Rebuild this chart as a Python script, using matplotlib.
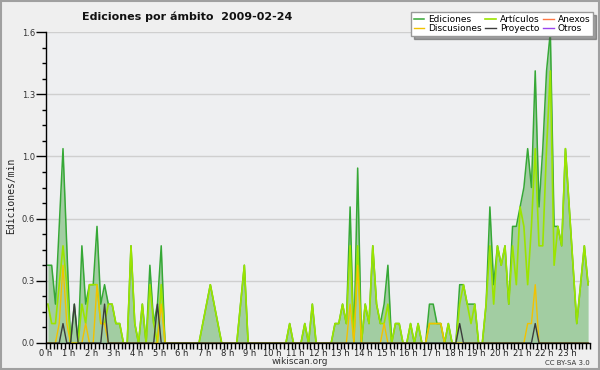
import numpy as np
import matplotlib
matplotlib.use("Agg")
import matplotlib.pyplot as plt
from matplotlib.patches import Rectangle

# ediciones por minuto, intervalos de 10 minutos (6 por hora)
total = [
    0.4, 0.4, 0.2, 0.6, 1.0, 0.5,   # 0 h
    0.0, 0.2, 0.0, 0.5, 0.2, 0.3,   # 1 h
    0.3, 0.6, 0.2, 0.3, 0.2, 0.2,   # 2 h
    0.1, 0.1, 0.0, 0.0, 0.5, 0.1,   # 3 h
    0.0, 0.2, 0.0, 0.4, 0.1, 0.2,   # 4 h
    0.5, 0.0, 0.0, 0.0, 0.0, 0.0,   # 5 h
    0.0, 0.0, 0.0, 0.0, 0.0, 0.1,   # 6 h
    0.2, 0.3, 0.2, 0.1, 0.0, 0.0,   # 7 h
    0.0, 0.0, 0.0, 0.2, 0.4, 0.0,   # 8 h
    0.0, 0.0, 0.0, 0.0, 0.0, 0.0,   # 9 h
    0.0, 0.0, 0.0, 0.0, 0.1, 0.0,   # 10 h
    0.0, 0.0, 0.1, 0.0, 0.2, 0.0,   # 11 h
    0.0, 0.0, 0.0, 0.0, 0.1, 0.1,   # 12 h
    0.2, 0.1, 0.7, 0.0, 0.9, 0.0,   # 13 h
    0.2, 0.1, 0.5, 0.2, 0.1, 0.2,   # 14 h
    0.4, 0.0, 0.1, 0.1, 0.0, 0.0,   # 15 h
    0.1, 0.0, 0.1, 0.0, 0.0, 0.2,   # 16 h
    0.2, 0.1, 0.1, 0.0, 0.1, 0.0,   # 17 h
    0.0, 0.3, 0.3, 0.2, 0.2, 0.2,   # 18 h
    0.0, 0.0, 0.2, 0.7, 0.3, 0.5,   # 19 h
    0.4, 0.5, 0.2, 0.6, 0.6, 0.7,   # 20 h
    0.8, 1.0, 0.8, 1.4, 0.7, 1.0,   # 21 h
    1.4, 1.6, 0.6, 0.6, 0.5, 1.0,   # 22 h
    0.7, 0.4, 0.1, 0.3, 0.5, 0.3,   # 23 h
]

articulos = [
    0.2, 0.1, 0.1, 0.3, 0.5, 0.3,
    0.0, 0.0, 0.0, 0.2, 0.1, 0.3,
    0.3, 0.3, 0.1, 0.1, 0.2, 0.2,
    0.1, 0.1, 0.0, 0.0, 0.5, 0.1,
    0.0, 0.2, 0.0, 0.3, 0.1, 0.0,
    0.3, 0.0, 0.0, 0.0, 0.0, 0.0,
    0.0, 0.0, 0.0, 0.0, 0.0, 0.1,
    0.2, 0.3, 0.2, 0.1, 0.0, 0.0,
    0.0, 0.0, 0.0, 0.2, 0.4, 0.0,
    0.0, 0.0, 0.0, 0.0, 0.0, 0.0,
    0.0, 0.0, 0.0, 0.0, 0.1, 0.0,
    0.0, 0.0, 0.1, 0.0, 0.2, 0.0,
    0.0, 0.0, 0.0, 0.0, 0.1, 0.1,
    0.2, 0.1, 0.5, 0.0, 0.5, 0.0,
    0.2, 0.1, 0.5, 0.2, 0.1, 0.1,
    0.2, 0.0, 0.1, 0.1, 0.0, 0.0,
    0.1, 0.0, 0.1, 0.0, 0.0, 0.1,
    0.1, 0.1, 0.1, 0.0, 0.1, 0.0,
    0.0, 0.2, 0.3, 0.2, 0.1, 0.2,
    0.0, 0.0, 0.2, 0.5, 0.2, 0.5,
    0.4, 0.5, 0.2, 0.5, 0.3, 0.7,
    0.6, 0.3, 0.6, 1.0, 0.5, 0.5,
    1.0, 1.4, 0.4, 0.6, 0.5, 1.0,
    0.7, 0.4, 0.1, 0.3, 0.5, 0.3,
]

# series dispersas: {intervalo: valor}
discusiones_pts = {3: 0.1, 4: 0.4, 5: 0.1, 10: 0.1, 13: 0.3, 14: 0.1, 15: 0.1,
                   30: 0.2, 80: 0.2, 82: 0.4, 89: 0.1, 101: 0.1, 102: 0.1,
                   103: 0.1, 104: 0.1, 127: 0.1, 128: 0.1, 129: 0.3}
proyecto_pts = {4: 0.1, 7: 0.2, 15: 0.2, 29: 0.2, 109: 0.1, 129: 0.1}

n = len(total)
discusiones = np.zeros(n)
for k, v in discusiones_pts.items():
    discusiones[k] = v
proyecto = np.zeros(n)
for k, v in proyecto_pts.items():
    proyecto[k] = v
anexos = np.zeros(n)
otros = np.zeros(n)

x = (np.arange(n) + 0.5) / 6.0
hours = list(range(24))
hour_labels = [f"{h} h" for h in hours]

bg = "#efefef"
fig = plt.figure(figsize=(6, 3.7), dpi=100, facecolor=bg)
ax = fig.add_axes([46 / 600, 27 / 370, 544 / 600, 311 / 370])
ax.set_facecolor("#eeeff1")

ax.plot(x, anexos, color="#ff7744", lw=1, label="Anexos", zorder=1)
ax.plot(x, otros, color="#9944ee", lw=1, label="Otros", zorder=1)
ax.fill_between(x, total, 0, color="#a2cda2", lw=0, zorder=2)
ax.plot(x, total, color="#36a836", lw=1.1, label="Ediciones", zorder=3)
ax.plot(x, articulos, color="#9be400", lw=1.2, label="Artículos", zorder=4)
ax.plot(x, discusiones, color="#f2c200", lw=1, label="Discusiones", zorder=5)
ax.plot(x, proyecto, color="#3c3c3c", lw=1, label="Proyecto", zorder=6)

ax.set_xlim(0, 24)
ax.set_ylim(0, 1.6)
yt = np.arange(0, 1.61, 0.32)
ax.set_yticks(yt)
ax.set_yticklabels([f"{v:.1f}" for v in yt])
ax.set_yticks(np.arange(0, 1.61, 0.08), minor=True)
ax.set_xticks(hours)
ax.set_xticklabels(hour_labels)
ax.set_xticks(np.arange(0, 24.01, 1 / 6), minor=True)
ax.grid(axis="y", color="#cfcfcf", lw=1, zorder=0)
ax.set_axisbelow(True)
for s in ["top", "right"]:
    ax.spines[s].set_visible(False)
for s in ["left", "bottom"]:
    ax.spines[s].set_color("black")
    ax.spines[s].set_linewidth(1)
    ax.spines[s].set_zorder(7)
ax.tick_params(axis="y", which="major", length=7, width=1, labelsize=6,
               labelcolor="#333333", pad=1)
ax.tick_params(axis="y", which="minor", length=3, width=1)
ax.tick_params(axis="x", which="both", length=4, width=1, labelsize=6,
               labelcolor="#222222", pad=0.5)

h, l = ax.get_legend_handles_labels()
order = ["Ediciones", "Discusiones", "Artículos", "Proyecto", "Anexos", "Otros"]
hd = dict(zip(l, h))
leg = fig.legend([hd[k] for k in order], order, ncol=3, loc="upper right",
                 bbox_to_anchor=(0.988, 0.967), fontsize=6.5, frameon=True,
                 fancybox=False, shadow=True, edgecolor="#999999",
                 handlelength=1.2, handletextpad=0.4, columnspacing=0.4,
                 labelspacing=0.05, borderpad=0.3, borderaxespad=0)
leg.get_frame().set_facecolor("white")
leg.get_frame().set_linewidth(1)

fig.text(0.312, 0.955, "Ediciones por ámbito  2009-02-24", ha="center",
         va="center", fontsize=8, fontweight="bold", color="#111111")
fig.text(0.018, 0.47, "Ediciones/min", rotation=90, ha="center", va="center",
         family="DejaVu Sans Mono", fontsize=7, color="#222222")
fig.text(0.5, 0.022, "wikiscan.org", ha="center", va="center", fontsize=6.5,
         color="#333333")
fig.text(0.983, 0.02, "CC BY-SA 3.0", ha="right", va="center", fontsize=5,
         color="#333333")
fig.patches.append(Rectangle((0.001, 0.002), 0.997, 0.995, transform=fig.transFigure,
                             fill=False, edgecolor="#a0a0a0", lw=1.5))

fig.savefig("out.png", dpi=100, facecolor=bg)
